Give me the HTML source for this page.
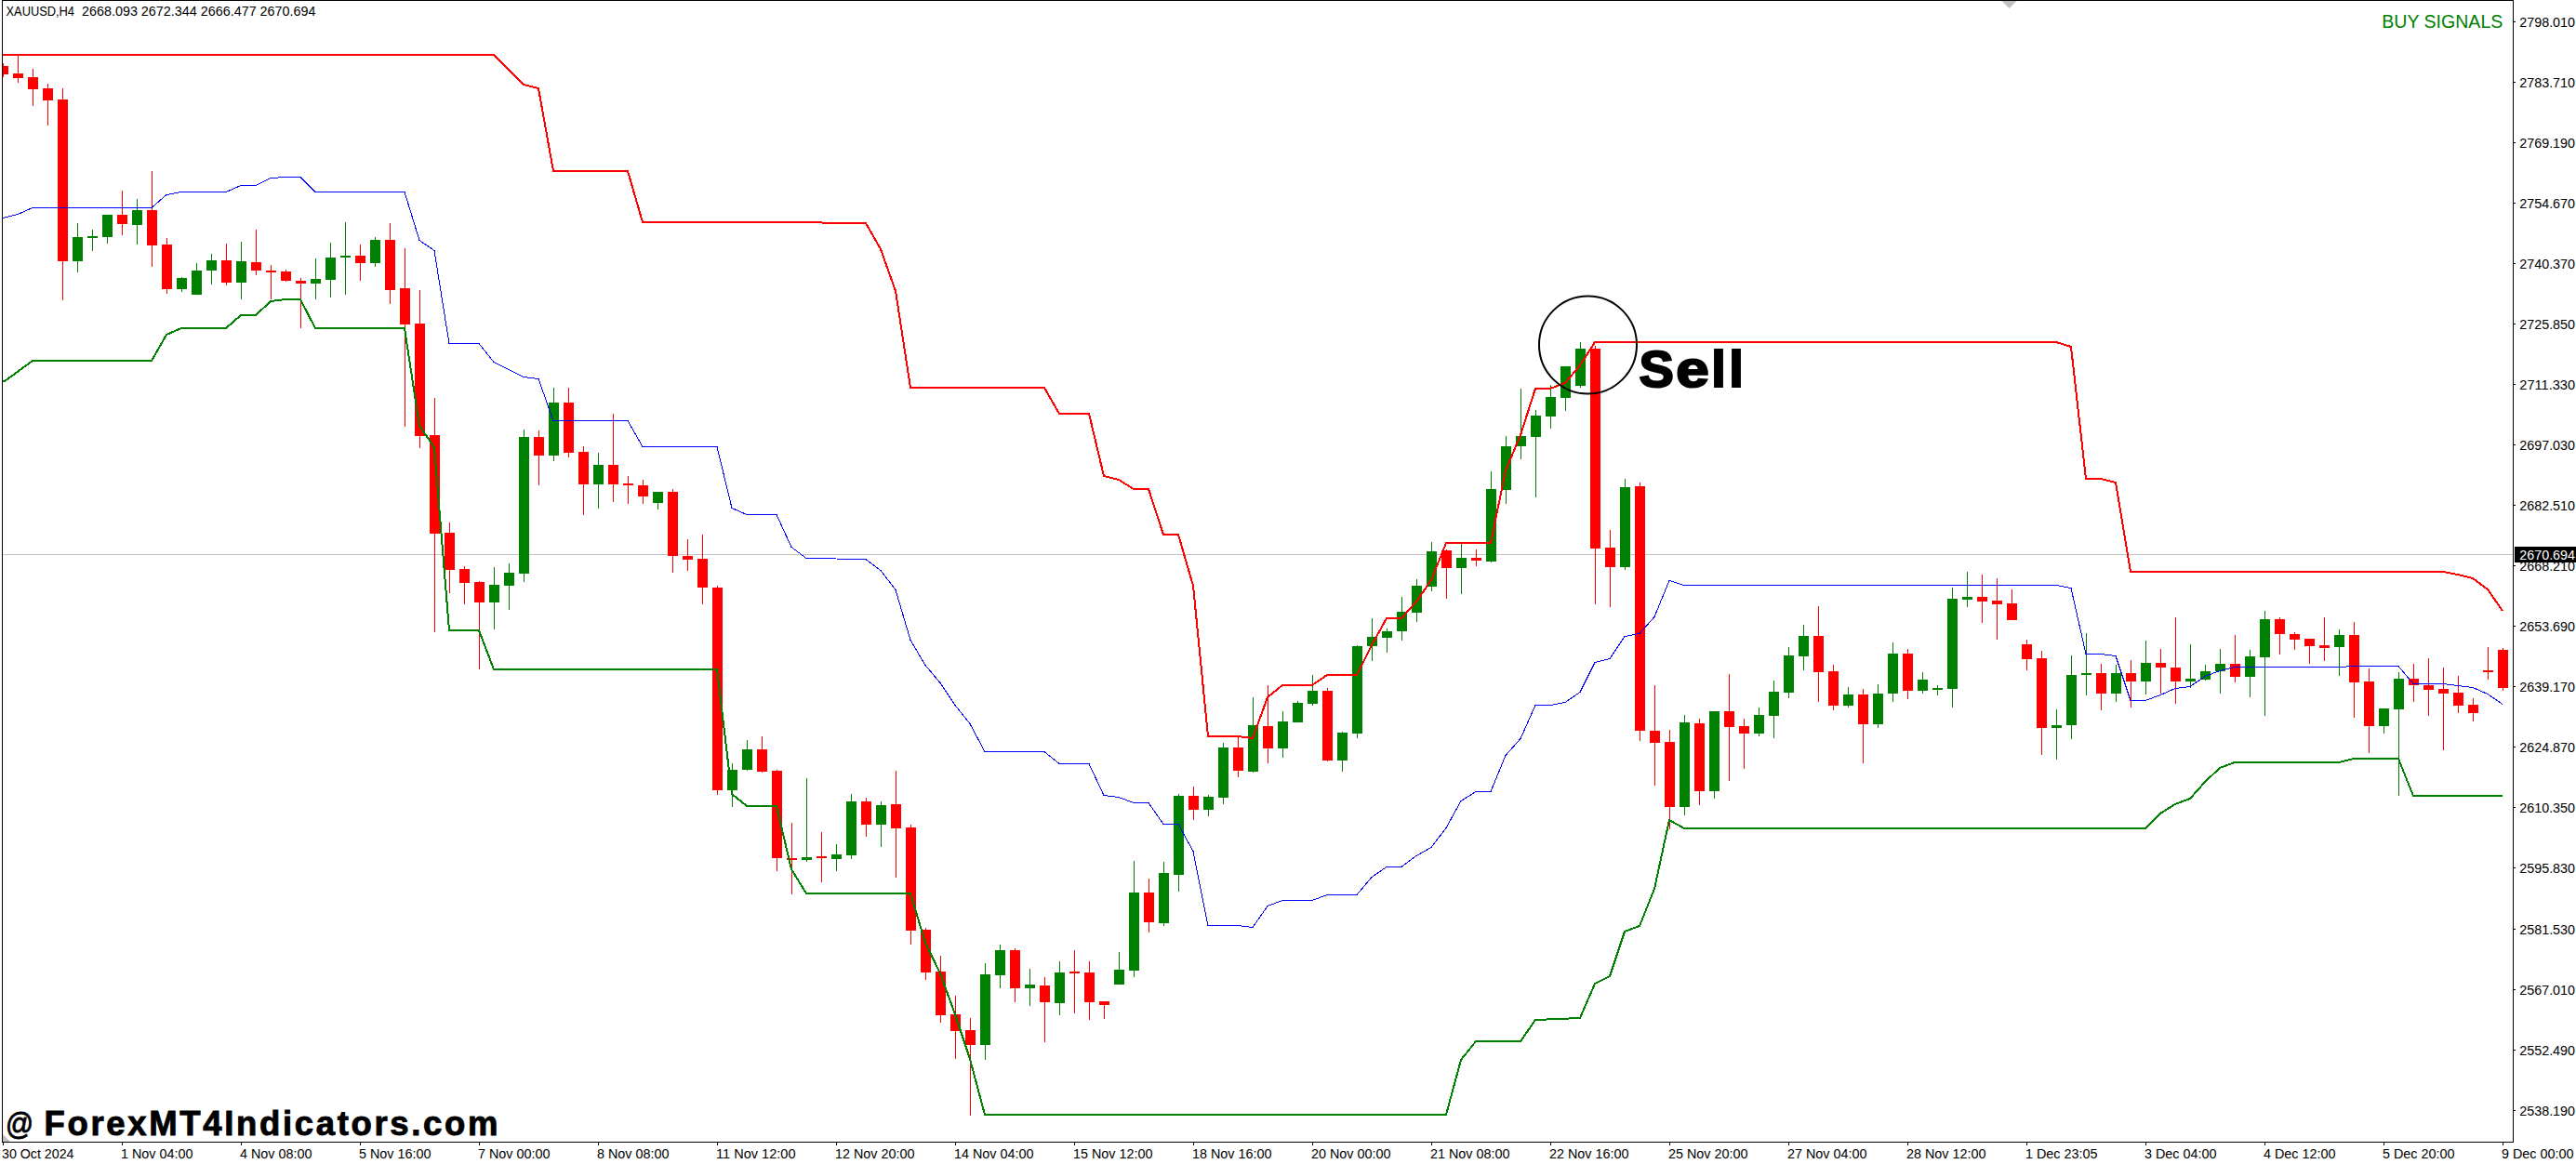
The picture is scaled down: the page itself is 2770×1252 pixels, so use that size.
<!DOCTYPE html>
<html><head><meta charset="utf-8"><title>XAUUSD,H4</title>
<style>html,body{margin:0;padding:0;background:#fff;}body{width:2770px;height:1252px;overflow:hidden;}svg{display:block;}text{font-family:'Liberation Sans', Arial, sans-serif;}</style>
</head><body>
<svg width="2770" height="1252" viewBox="0 0 2770 1252">
<rect x="0" y="0" width="2770" height="1252" fill="#fff"/>
<rect x="3" y="596" width="2699" height="1" fill="#C0C0C0"/>
<path fill="#FF0000" d="M3 68 h1 v15 h-1zM3 71 h6 v9 h-6zM19 58 h1 v31 h-1zM14 79 h11 v5 h-11zM35 74 h1 v40 h-1zM30 83 h11 v13 h-11zM51 90 h1 v45 h-1zM46 95 h11 v13 h-11zM67 95 h1 v228 h-1zM62 107 h11 v174 h-11zM131 205 h1 v48 h-1zM126 231 h11 v10 h-11zM163 184 h1 v103 h-1zM158 226 h11 v38 h-11zM179 256 h1 v60 h-1zM174 263 h11 v48 h-11zM243 262 h1 v45 h-1zM238 280 h11 v24 h-11zM275 247 h1 v49 h-1zM270 282 h11 v9 h-11zM291 285 h1 v37 h-1zM286 291 h11 v2 h-11zM307 290 h1 v13 h-1zM302 292 h11 v10 h-11zM323 299 h1 v54 h-1zM318 302 h11 v3 h-11zM387 263 h1 v39 h-1zM382 275 h11 v8 h-11zM419 240 h1 v87 h-1zM414 258 h11 v54 h-11zM435 267 h1 v192 h-1zM430 310 h11 v39 h-11zM451 312 h1 v170 h-1zM446 348 h11 v121 h-11zM467 428 h1 v252 h-1zM462 468 h11 v106 h-11zM483 562 h1 v76 h-1zM478 573 h11 v40 h-11zM499 609 h1 v41 h-1zM494 612 h11 v15 h-11zM515 625 h1 v95 h-1zM510 626 h11 v22 h-11zM579 463 h1 v59 h-1zM574 470 h11 v20 h-11zM611 417 h1 v75 h-1zM606 433 h11 v54 h-11zM627 480 h1 v74 h-1zM622 486 h11 v35 h-11zM659 445 h1 v95 h-1zM654 500 h11 v21 h-11zM675 512 h1 v30 h-1zM670 520 h11 v2 h-11zM691 516 h1 v26 h-1zM686 522 h11 v12 h-11zM723 526 h1 v90 h-1zM718 529 h11 v69 h-11zM739 580 h1 v34 h-1zM734 598 h11 v4 h-11zM755 575 h1 v75 h-1zM750 601 h11 v31 h-11zM771 630 h1 v225 h-1zM766 632 h11 v218 h-11zM819 792 h1 v39 h-1zM814 806 h11 v24 h-11zM835 828 h1 v109 h-1zM830 829 h11 v94 h-11zM851 885 h1 v77 h-1zM846 923 h11 v2 h-11zM883 895 h1 v54 h-1zM878 921 h11 v2 h-11zM931 858 h1 v42 h-1zM926 862 h11 v25 h-11zM963 829 h1 v115 h-1zM958 865 h11 v26 h-11zM979 887 h1 v129 h-1zM974 890 h11 v111 h-11zM995 998 h1 v56 h-1zM990 1000 h11 v46 h-11zM1011 1028 h1 v72 h-1zM1006 1045 h11 v47 h-11zM1027 1071 h1 v68 h-1zM1022 1091 h11 v18 h-11zM1043 1095 h1 v105 h-1zM1038 1108 h11 v16 h-11zM1091 1020 h1 v58 h-1zM1086 1022 h11 v41 h-11zM1123 1051 h1 v70 h-1zM1118 1060 h11 v18 h-11zM1155 1022 h1 v68 h-1zM1150 1045 h11 v2 h-11zM1171 1034 h1 v63 h-1zM1166 1046 h11 v32 h-11zM1187 1077 h1 v19 h-1zM1182 1077 h11 v4 h-11zM1235 945 h1 v58 h-1zM1230 960 h11 v32 h-11zM1283 846 h1 v36 h-1zM1278 856 h11 v15 h-11zM1331 793 h1 v43 h-1zM1326 804 h11 v25 h-11zM1363 737 h1 v84 h-1zM1358 781 h11 v24 h-11zM1427 740 h1 v79 h-1zM1422 743 h11 v75 h-11zM1555 591 h1 v53 h-1zM1550 592 h11 v19 h-11zM1587 591 h1 v18 h-1zM1582 600 h11 v3 h-11zM1715 372 h1 v278 h-1zM1710 375 h11 v215 h-11zM1731 570 h1 v83 h-1zM1726 589 h11 v21 h-11zM1763 519 h1 v278 h-1zM1758 523 h11 v263 h-11zM1779 737 h1 v108 h-1zM1774 786 h11 v13 h-11zM1795 785 h1 v107 h-1zM1790 798 h11 v70 h-11zM1827 773 h1 v93 h-1zM1822 778 h11 v73 h-11zM1859 725 h1 v115 h-1zM1854 765 h11 v17 h-11zM1875 773 h1 v54 h-1zM1870 781 h11 v8 h-11zM1955 652 h1 v103 h-1zM1950 684 h11 v39 h-11zM1971 715 h1 v49 h-1zM1966 722 h11 v37 h-11zM2003 741 h1 v80 h-1zM1998 747 h11 v32 h-11zM2051 698 h1 v54 h-1zM2046 703 h11 v40 h-11zM2131 618 h1 v52 h-1zM2126 642 h11 v5 h-11zM2147 622 h1 v66 h-1zM2142 646 h11 v4 h-11zM2163 634 h1 v33 h-1zM2158 649 h11 v18 h-11zM2179 688 h1 v33 h-1zM2174 693 h11 v16 h-11zM2195 700 h1 v112 h-1zM2190 708 h11 v75 h-11zM2259 714 h1 v50 h-1zM2254 724 h11 v22 h-11zM2291 710 h1 v51 h-1zM2286 724 h11 v9 h-11zM2323 698 h1 v48 h-1zM2318 713 h11 v5 h-11zM2339 664 h1 v93 h-1zM2334 718 h11 v15 h-11zM2403 683 h1 v51 h-1zM2398 714 h11 v14 h-11zM2451 664 h1 v40 h-1zM2446 666 h11 v16 h-11zM2467 680 h1 v19 h-1zM2462 682 h11 v6 h-11zM2483 687 h1 v27 h-1zM2478 687 h11 v8 h-11zM2499 664 h1 v47 h-1zM2494 694 h11 v3 h-11zM2531 669 h1 v103 h-1zM2526 683 h11 v51 h-11zM2547 719 h1 v91 h-1zM2542 733 h11 v48 h-11zM2595 714 h1 v41 h-1zM2590 730 h11 v7 h-11zM2611 708 h1 v62 h-1zM2606 737 h11 v5 h-11zM2627 718 h1 v89 h-1zM2622 741 h11 v5 h-11zM2643 727 h1 v40 h-1zM2638 745 h11 v14 h-11zM2659 751 h1 v25 h-1zM2654 758 h11 v9 h-11zM2675 696 h1 v35 h-1zM2670 721 h11 v2 h-11zM2691 697 h1 v46 h-1zM2686 699 h11 v41 h-11z"/>
<path fill="#008000" d="M83 240 h1 v53 h-1zM78 255 h11 v26 h-11zM99 247 h1 v23 h-1zM94 254 h11 v2 h-11zM115 231 h1 v31 h-1zM110 231 h11 v24 h-11zM147 214 h1 v49 h-1zM142 226 h11 v16 h-11zM195 298 h1 v16 h-1zM190 299 h11 v12 h-11zM211 283 h1 v34 h-1zM206 291 h11 v26 h-11zM227 273 h1 v33 h-1zM222 280 h11 v11 h-11zM259 260 h1 v62 h-1zM254 281 h11 v23 h-11zM339 278 h1 v44 h-1zM334 300 h11 v5 h-11zM355 261 h1 v59 h-1zM350 277 h11 v24 h-11zM371 239 h1 v78 h-1zM366 275 h11 v2 h-11zM403 255 h1 v32 h-1zM398 258 h11 v25 h-11zM531 610 h1 v67 h-1zM526 629 h11 v19 h-11zM547 606 h1 v50 h-1zM542 616 h11 v14 h-11zM563 462 h1 v164 h-1zM558 470 h11 v147 h-11zM595 417 h1 v79 h-1zM590 433 h11 v57 h-11zM643 487 h1 v60 h-1zM638 500 h11 v21 h-11zM707 529 h1 v19 h-1zM702 529 h11 v12 h-11zM787 821 h1 v47 h-1zM782 828 h11 v22 h-11zM803 796 h1 v33 h-1zM798 806 h11 v22 h-11zM867 837 h1 v90 h-1zM862 922 h11 v3 h-11zM899 908 h1 v29 h-1zM894 919 h11 v5 h-11zM915 854 h1 v70 h-1zM910 862 h11 v58 h-11zM947 862 h1 v49 h-1zM942 866 h11 v21 h-11zM1059 1036 h1 v104 h-1zM1054 1048 h11 v76 h-11zM1075 1016 h1 v47 h-1zM1070 1022 h11 v27 h-11zM1107 1042 h1 v40 h-1zM1102 1059 h11 v4 h-11zM1139 1034 h1 v58 h-1zM1134 1046 h11 v33 h-11zM1203 1024 h1 v35 h-1zM1198 1043 h11 v16 h-11zM1219 926 h1 v125 h-1zM1214 960 h11 v84 h-11zM1251 927 h1 v69 h-1zM1246 939 h11 v54 h-11zM1267 854 h1 v105 h-1zM1262 856 h11 v85 h-11zM1299 855 h1 v23 h-1zM1294 857 h11 v14 h-11zM1315 799 h1 v66 h-1zM1310 804 h11 v54 h-11zM1347 750 h1 v81 h-1zM1342 780 h11 v50 h-11zM1379 765 h1 v50 h-1zM1374 776 h11 v29 h-11zM1395 754 h1 v23 h-1zM1390 756 h11 v21 h-11zM1411 726 h1 v33 h-1zM1406 743 h11 v14 h-11zM1443 787 h1 v43 h-1zM1438 788 h11 v30 h-11zM1459 694 h1 v100 h-1zM1454 695 h11 v94 h-11zM1475 665 h1 v46 h-1zM1470 685 h11 v10 h-11zM1491 676 h1 v26 h-1zM1486 679 h11 v7 h-11zM1507 642 h1 v47 h-1zM1502 658 h11 v21 h-11zM1523 623 h1 v46 h-1zM1518 630 h11 v29 h-11zM1539 583 h1 v53 h-1zM1534 593 h11 v38 h-11zM1571 584 h1 v55 h-1zM1566 600 h11 v11 h-11zM1603 507 h1 v98 h-1zM1598 526 h11 v78 h-11zM1619 469 h1 v73 h-1zM1614 480 h11 v47 h-11zM1635 418 h1 v76 h-1zM1630 469 h11 v11 h-11zM1651 441 h1 v94 h-1zM1646 447 h11 v23 h-11zM1667 414 h1 v47 h-1zM1662 427 h11 v21 h-11zM1683 394 h1 v48 h-1zM1678 394 h11 v34 h-11zM1699 368 h1 v49 h-1zM1694 375 h11 v40 h-11zM1747 515 h1 v98 h-1zM1742 524 h11 v86 h-11zM1811 769 h1 v108 h-1zM1806 777 h11 v91 h-11zM1843 765 h1 v94 h-1zM1838 765 h11 v86 h-11zM1891 761 h1 v31 h-1zM1886 769 h11 v20 h-11zM1907 732 h1 v62 h-1zM1902 744 h11 v26 h-11zM1923 696 h1 v55 h-1zM1918 705 h11 v40 h-11zM1939 672 h1 v49 h-1zM1934 684 h11 v22 h-11zM1987 739 h1 v22 h-1zM1982 747 h11 v12 h-11zM2019 736 h1 v47 h-1zM2014 746 h11 v33 h-11zM2035 691 h1 v64 h-1zM2030 703 h11 v43 h-11zM2067 723 h1 v23 h-1zM2062 731 h11 v12 h-11zM2083 737 h1 v11 h-1zM2078 740 h11 v2 h-11zM2099 632 h1 v129 h-1zM2094 644 h11 v97 h-11zM2115 615 h1 v38 h-1zM2110 642 h11 v3 h-11zM2211 763 h1 v54 h-1zM2206 780 h11 v3 h-11zM2227 705 h1 v90 h-1zM2222 726 h11 v54 h-11zM2243 681 h1 v67 h-1zM2238 724 h11 v2 h-11zM2275 715 h1 v40 h-1zM2270 724 h11 v22 h-11zM2307 689 h1 v58 h-1zM2302 713 h11 v20 h-11zM2355 693 h1 v47 h-1zM2350 730 h11 v3 h-11zM2371 715 h1 v17 h-1zM2366 722 h11 v9 h-11zM2387 698 h1 v48 h-1zM2382 714 h11 v8 h-11zM2419 699 h1 v51 h-1zM2414 706 h11 v22 h-11zM2435 657 h1 v113 h-1zM2430 666 h11 v41 h-11zM2515 677 h1 v50 h-1zM2510 683 h11 v13 h-11zM2563 762 h1 v27 h-1zM2558 762 h11 v19 h-11zM2579 723 h1 v133 h-1zM2574 730 h11 v33 h-11z"/>
<g clip-path="url(#cl)">
<polyline fill="none" stroke="#0000FF" stroke-width="1" stroke-linejoin="miter" shape-rendering="crispEdges" points="3,234.5 19,230.5 35,223.5 163,223.5 179,209.5 195,206.5 243,206.5 259,199.5 275,199.5 291,191.5 307,190.5 323,190.5 339,206.5 435,206.5 451,258.5 467,269.5 483,369.5 515,369.5 531,389.5 563,405.5 579,407.5 595,452.5 675,452.5 691,480.5 771,480.5 787,546.5 803,553.5 835,553.5 851,588.5 867,600.5 931,601.5 947,613.5 963,634.5 979,688.5 995,715.5 1011,734.5 1027,758.5 1043,778.5 1059,808.5 1123,808.5 1139,821.5 1171,821.5 1187,855.5 1203,857.5 1219,863.5 1235,863.5 1251,886.5 1267,886.5 1283,915.5 1299,995.5 1331,995.5 1347,997.5 1363,974.5 1379,968.5 1411,968.5 1427,962.5 1459,962.5 1475,943.5 1491,932.5 1507,932.5 1523,920.5 1539,911.5 1555,890.5 1571,861.5 1587,851.5 1603,851.5 1619,812.5 1635,794.5 1651,758.5 1667,758.5 1683,755.5 1699,744.5 1715,712.5 1731,708.5 1747,684.5 1763,681.5 1779,663.5 1795,624.5 1811,629.5 2211,629.5 2227,632.5 2243,703.5 2259,703.5 2275,705.5 2291,753.5 2307,753.5 2323,747.5 2339,740.5 2355,738.5 2371,727.5 2387,721.5 2403,717.5 2515,717.5 2531,716.5 2579,716.5 2595,735.5 2627,735.5 2643,737.5 2659,739.5 2675,746.5 2691,757.5"/>
<polyline fill="none" stroke="#FF0000" stroke-width="2" stroke-linejoin="miter" shape-rendering="crispEdges" points="3,59 531,59 563,91 579,95 595,184 675,184 691,239 883,239 885,240 931,240 947,268 963,313 979,417 1123,417 1139,445 1171,445 1187,512 1203,516 1219,526 1235,526 1251,575 1267,575 1283,630 1299,792 1331,792 1347,794 1363,750 1379,737 1411,737 1427,726 1459,726 1475,694 1491,665 1507,665 1523,647 1539,624 1555,584 1603,584 1619,506 1635,468 1651,418 1667,418 1683,412 1699,393 1715,368 2211,368 2227,373 2243,515 2259,515 2275,519 2291,615 2627,615 2643,618 2659,622 2675,634 2691,657"/>
<polyline fill="none" stroke="#008000" stroke-width="2" stroke-linejoin="miter" shape-rendering="crispEdges" points="3,410 5,410 35,388 163,388 179,360 195,353 243,353 259,339 275,339 291,324 307,322 323,322 339,353 435,353 451,458 467,481 483,678 515,678 531,720 771,720 787,854 803,867 835,867 851,935 867,961 979,961 995,1014 1011,1047 1027,1091 1043,1139 1059,1199 1555,1199 1571,1140 1587,1120 1635,1120 1651,1097 1699,1095 1715,1058 1731,1050 1747,1002 1763,996 1779,956 1795,882 1811,891 2307,891 2323,875 2339,865 2355,859 2371,841 2387,826 2403,820 2515,820 2531,816 2579,816 2595,856 2691,856"/>
</g>
<defs><clipPath id="cl"><rect x="3" y="1" width="2699" height="1227"/></clipPath></defs>
<circle cx="1707.5" cy="371" r="52.5" fill="none" stroke="#000" stroke-width="2"/>
<g font-size="56" font-weight="bold" fill="#000" stroke="#000" stroke-width="2.2"><text x="1762.5" y="415.5">S</text><text x="1802.3" y="415.5" textLength="35.5" lengthAdjust="spacingAndGlyphs">e</text><text x="1840.3" y="415.5">l</text><text x="1859.3" y="415.5">l</text></g>
<rect x="2" y="0" width="2701" height="1" fill="#000"/>
<rect x="2" y="0" width="1" height="1229" fill="#000"/>
<rect x="2" y="1228" width="2701" height="1" fill="#000"/>
<rect x="2702" y="0" width="1" height="1229" fill="#000"/>
<polygon points="2152.5,1 2168.5,1 2160.5,9" fill="#C0C0C0"/>
<polygon points="3,1220 3,1228 11,1228" fill="#C0C0C0"/>
<rect x="3" y="1229" width="1" height="3" fill="#000"/>
<text x="2" y="1246" font-size="14.5" fill="#000" textLength="77.5" lengthAdjust="spacingAndGlyphs">30 Oct 2024</text>
<rect x="131" y="1229" width="1" height="3" fill="#000"/>
<text x="130" y="1246" font-size="14.5" fill="#000" textLength="77.5" lengthAdjust="spacingAndGlyphs">1 Nov 04:00</text>
<rect x="259" y="1229" width="1" height="3" fill="#000"/>
<text x="258" y="1246" font-size="14.5" fill="#000" textLength="77.5" lengthAdjust="spacingAndGlyphs">4 Nov 08:00</text>
<rect x="387" y="1229" width="1" height="3" fill="#000"/>
<text x="386" y="1246" font-size="14.5" fill="#000" textLength="77.5" lengthAdjust="spacingAndGlyphs">5 Nov 16:00</text>
<rect x="515" y="1229" width="1" height="3" fill="#000"/>
<text x="514" y="1246" font-size="14.5" fill="#000" textLength="77.5" lengthAdjust="spacingAndGlyphs">7 Nov 00:00</text>
<rect x="643" y="1229" width="1" height="3" fill="#000"/>
<text x="642" y="1246" font-size="14.5" fill="#000" textLength="77.5" lengthAdjust="spacingAndGlyphs">8 Nov 08:00</text>
<rect x="771" y="1229" width="1" height="3" fill="#000"/>
<text x="770" y="1246" font-size="14.5" fill="#000" textLength="85.5" lengthAdjust="spacingAndGlyphs">11 Nov 12:00</text>
<rect x="899" y="1229" width="1" height="3" fill="#000"/>
<text x="898" y="1246" font-size="14.5" fill="#000" textLength="85.5" lengthAdjust="spacingAndGlyphs">12 Nov 20:00</text>
<rect x="1027" y="1229" width="1" height="3" fill="#000"/>
<text x="1026" y="1246" font-size="14.5" fill="#000" textLength="85.5" lengthAdjust="spacingAndGlyphs">14 Nov 04:00</text>
<rect x="1155" y="1229" width="1" height="3" fill="#000"/>
<text x="1154" y="1246" font-size="14.5" fill="#000" textLength="85.5" lengthAdjust="spacingAndGlyphs">15 Nov 12:00</text>
<rect x="1283" y="1229" width="1" height="3" fill="#000"/>
<text x="1282" y="1246" font-size="14.5" fill="#000" textLength="85.5" lengthAdjust="spacingAndGlyphs">18 Nov 16:00</text>
<rect x="1411" y="1229" width="1" height="3" fill="#000"/>
<text x="1410" y="1246" font-size="14.5" fill="#000" textLength="85.5" lengthAdjust="spacingAndGlyphs">20 Nov 00:00</text>
<rect x="1539" y="1229" width="1" height="3" fill="#000"/>
<text x="1538" y="1246" font-size="14.5" fill="#000" textLength="85.5" lengthAdjust="spacingAndGlyphs">21 Nov 08:00</text>
<rect x="1667" y="1229" width="1" height="3" fill="#000"/>
<text x="1666" y="1246" font-size="14.5" fill="#000" textLength="85.5" lengthAdjust="spacingAndGlyphs">22 Nov 16:00</text>
<rect x="1795" y="1229" width="1" height="3" fill="#000"/>
<text x="1794" y="1246" font-size="14.5" fill="#000" textLength="85.5" lengthAdjust="spacingAndGlyphs">25 Nov 20:00</text>
<rect x="1923" y="1229" width="1" height="3" fill="#000"/>
<text x="1922" y="1246" font-size="14.5" fill="#000" textLength="85.5" lengthAdjust="spacingAndGlyphs">27 Nov 04:00</text>
<rect x="2051" y="1229" width="1" height="3" fill="#000"/>
<text x="2050" y="1246" font-size="14.5" fill="#000" textLength="85.5" lengthAdjust="spacingAndGlyphs">28 Nov 12:00</text>
<rect x="2179" y="1229" width="1" height="3" fill="#000"/>
<text x="2178" y="1246" font-size="14.5" fill="#000" textLength="77.5" lengthAdjust="spacingAndGlyphs">1 Dec 23:05</text>
<rect x="2307" y="1229" width="1" height="3" fill="#000"/>
<text x="2306" y="1246" font-size="14.5" fill="#000" textLength="77.5" lengthAdjust="spacingAndGlyphs">3 Dec 04:00</text>
<rect x="2435" y="1229" width="1" height="3" fill="#000"/>
<text x="2434" y="1246" font-size="14.5" fill="#000" textLength="77.5" lengthAdjust="spacingAndGlyphs">4 Dec 12:00</text>
<rect x="2563" y="1229" width="1" height="3" fill="#000"/>
<text x="2562" y="1246" font-size="14.5" fill="#000" textLength="77.5" lengthAdjust="spacingAndGlyphs">5 Dec 20:00</text>
<rect x="2691" y="1229" width="1" height="3" fill="#000"/>
<text x="2690" y="1246" font-size="14.5" fill="#000" textLength="77.5" lengthAdjust="spacingAndGlyphs">9 Dec 00:00</text>
<rect x="2703" y="23" width="2" height="1" fill="#000"/>
<text x="2709.3" y="29" font-size="14.5" fill="#000" textLength="59.7" lengthAdjust="spacingAndGlyphs">2798.010</text>
<rect x="2703" y="88" width="2" height="1" fill="#000"/>
<text x="2709.3" y="94" font-size="14.5" fill="#000" textLength="59.7" lengthAdjust="spacingAndGlyphs">2783.710</text>
<rect x="2703" y="153" width="2" height="1" fill="#000"/>
<text x="2709.3" y="159" font-size="14.5" fill="#000" textLength="59.7" lengthAdjust="spacingAndGlyphs">2769.190</text>
<rect x="2703" y="218" width="2" height="1" fill="#000"/>
<text x="2709.3" y="224" font-size="14.5" fill="#000" textLength="59.7" lengthAdjust="spacingAndGlyphs">2754.670</text>
<rect x="2703" y="283" width="2" height="1" fill="#000"/>
<text x="2709.3" y="289" font-size="14.5" fill="#000" textLength="59.7" lengthAdjust="spacingAndGlyphs">2740.370</text>
<rect x="2703" y="348" width="2" height="1" fill="#000"/>
<text x="2709.3" y="354" font-size="14.5" fill="#000" textLength="59.7" lengthAdjust="spacingAndGlyphs">2725.850</text>
<rect x="2703" y="413" width="2" height="1" fill="#000"/>
<text x="2709.3" y="419" font-size="14.5" fill="#000" textLength="59.7" lengthAdjust="spacingAndGlyphs">2711.330</text>
<rect x="2703" y="478" width="2" height="1" fill="#000"/>
<text x="2709.3" y="484" font-size="14.5" fill="#000" textLength="59.7" lengthAdjust="spacingAndGlyphs">2697.030</text>
<rect x="2703" y="543" width="2" height="1" fill="#000"/>
<text x="2709.3" y="549" font-size="14.5" fill="#000" textLength="59.7" lengthAdjust="spacingAndGlyphs">2682.510</text>
<rect x="2703" y="608" width="2" height="1" fill="#000"/>
<text x="2709.3" y="614" font-size="14.5" fill="#000" textLength="59.7" lengthAdjust="spacingAndGlyphs">2668.210</text>
<rect x="2703" y="673" width="2" height="1" fill="#000"/>
<text x="2709.3" y="679" font-size="14.5" fill="#000" textLength="59.7" lengthAdjust="spacingAndGlyphs">2653.690</text>
<rect x="2703" y="738" width="2" height="1" fill="#000"/>
<text x="2709.3" y="744" font-size="14.5" fill="#000" textLength="59.7" lengthAdjust="spacingAndGlyphs">2639.170</text>
<rect x="2703" y="803" width="2" height="1" fill="#000"/>
<text x="2709.3" y="809" font-size="14.5" fill="#000" textLength="59.7" lengthAdjust="spacingAndGlyphs">2624.870</text>
<rect x="2703" y="868" width="2" height="1" fill="#000"/>
<text x="2709.3" y="874" font-size="14.5" fill="#000" textLength="59.7" lengthAdjust="spacingAndGlyphs">2610.350</text>
<rect x="2703" y="933" width="2" height="1" fill="#000"/>
<text x="2709.3" y="939" font-size="14.5" fill="#000" textLength="59.7" lengthAdjust="spacingAndGlyphs">2595.830</text>
<rect x="2703" y="999" width="2" height="1" fill="#000"/>
<text x="2709.3" y="1005" font-size="14.5" fill="#000" textLength="59.7" lengthAdjust="spacingAndGlyphs">2581.530</text>
<rect x="2703" y="1064" width="2" height="1" fill="#000"/>
<text x="2709.3" y="1070" font-size="14.5" fill="#000" textLength="59.7" lengthAdjust="spacingAndGlyphs">2567.010</text>
<rect x="2703" y="1129" width="2" height="1" fill="#000"/>
<text x="2709.3" y="1135" font-size="14.5" fill="#000" textLength="59.7" lengthAdjust="spacingAndGlyphs">2552.490</text>
<rect x="2703" y="1194" width="2" height="1" fill="#000"/>
<text x="2709.3" y="1200" font-size="14.5" fill="#000" textLength="59.7" lengthAdjust="spacingAndGlyphs">2538.190</text>
<rect x="2704" y="588" width="66" height="17" fill="#000"/>
<text x="2709.3" y="602" font-size="14.5" fill="#fff" textLength="59.7" lengthAdjust="spacingAndGlyphs">2670.694</text>
<text x="6.5" y="17" font-size="14.5" fill="#000" textLength="73.5" lengthAdjust="spacingAndGlyphs">XAUUSD,H4</text>
<text x="88" y="17" font-size="14.5" fill="#000" textLength="251.5" lengthAdjust="spacingAndGlyphs">2668.093 2672.344 2666.477 2670.694</text>
<text x="2561.3" y="29.6" font-size="19.7" fill="#008000" textLength="130" lengthAdjust="spacingAndGlyphs">BUY SIGNALS</text>
<text x="6" y="1220" font-size="33" fill="#000" stroke="#000" stroke-width="0.9" textLength="30" lengthAdjust="spacingAndGlyphs">@</text>
<text x="47.5" y="1220.7" font-size="36.5" font-weight="bold" fill="#000" stroke="#000" stroke-width="0.9" textLength="488" lengthAdjust="spacing">ForexMT4Indicators.com</text>
</svg></body></html>
